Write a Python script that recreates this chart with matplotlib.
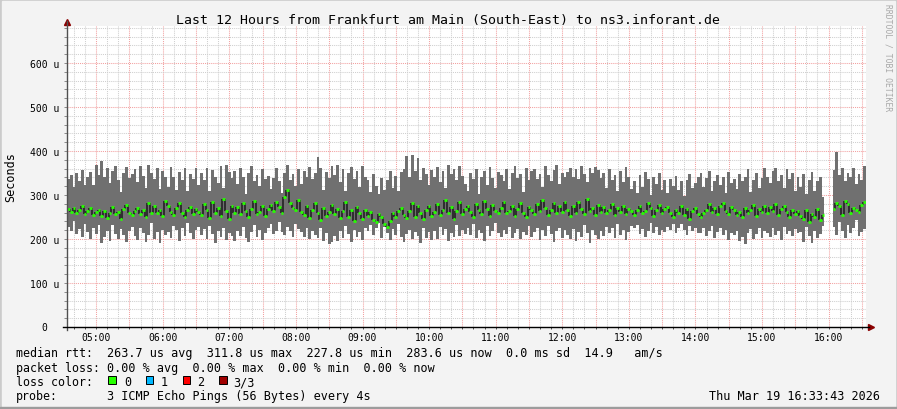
import numpy as np
import matplotlib
matplotlib.use("Agg")
import matplotlib.pyplot as plt
from matplotlib.ticker import MultipleLocator, FuncFormatter
from matplotlib.patches import Rectangle
from matplotlib.lines import Line2D
from matplotlib.transforms import offset_copy

nan = float("nan")

# smoke: min / max of the 3 pings per step, and the median (microseconds)
ping_max = [
    336, 345, 318, 350, 331, 357, 322, 340, 352, 322, 367, 346,
    378, 342, 361, 328, 354, 366, 334, 306, 349, 364, 338, 347,
    358, 330, 366, 344, 316, 368, 350, 336, 361, 314, 355, 340,
    318, 364, 342, 312, 353, 333, 361, 309, 348, 337, 362, 322,
    350, 334, 362, 310, 356, 342, 327, 366, 317, 369, 352, 338,
    354, 326, 362, 340, 303, 351, 366, 332, 345, 320, 358, 336,
    344, 314, 338, 362, 331, 305, 351, 368, 335, 348, 321, 358,
    326, 355, 342, 364, 336, 349, 386, 361, 312, 352, 338, 366,
    346, 368, 330, 359, 308, 350, 363, 336, 354, 318, 365, 342,
    335, 306, 348, 320, 302, 339, 311, 333, 355, 316, 344, 309,
    352, 360, 388, 342, 390, 354, 383, 334, 362, 347, 323, 357,
    340, 364, 329, 354, 315, 368, 347, 360, 333, 366, 343, 325,
    310, 350, 336, 360, 303, 340, 354, 322, 363, 339, 316, 352,
    345, 331, 358, 314, 351, 365, 338, 347, 306, 361, 334, 354,
    360, 336, 348, 318, 365, 346, 331, 356, 368, 325, 351, 340,
    353, 362, 342, 358, 336, 366, 347, 329, 361, 349, 364, 356,
    338, 350, 317, 359, 334, 345, 308, 354, 329, 363, 342, 314,
    332, 305, 345, 318, 353, 336, 300, 340, 325, 349, 312, 335,
    304, 336, 320, 344, 311, 331, 298, 335, 347, 315, 327, 340,
    349, 318, 338, 354, 309, 332, 345, 322, 342, 305, 353, 328,
    336, 314, 347, 331, 342, 358, 306, 335, 351, 317, 338, 361,
    340, 327, 354, 362, 332, 345, 316, 359, 336, 349, 308, 342,
    318, 347, 302, 334, 352, 309, 331, 342, 296, nan, nan, nan,
    356, 397, 345, 362, 331, 350, 340, 361, 324, 348, 333, 366,
]
ping_min = [
    228, 218, 240, 212, 223, 204, 235, 216, 199, 225, 211, 231,
    190, 205, 219, 196, 232, 211, 199, 222, 208, 194, 218, 228,
    206, 197, 226, 213, 193, 208, 236, 200, 217, 191, 221, 210,
    215, 202, 229, 220, 196, 224, 207, 237, 213, 199, 221, 228,
    208, 222, 199, 229, 211, 192, 218, 204, 226, 198, 214, 206,
    196, 219, 207, 227, 202, 194, 216, 231, 205, 221, 197, 213,
    224, 233, 211, 219, 238, 215, 208, 228, 218, 204, 234, 223,
    216, 205, 226, 199, 219, 210, 203, 224, 196, 213, 189, 193,
    207, 195, 218, 203, 229, 211, 194, 221, 204, 215, 198, 226,
    219, 231, 208, 224, 236, 203, 227, 213, 198, 222, 210, 233,
    204, 193, 211, 221, 200, 216, 207, 191, 226, 203, 215, 197,
    218, 199, 228, 208, 222, 195, 213, 204, 231, 207, 220, 211,
    224, 210, 233, 202, 221, 214, 196, 230, 207, 218, 237, 213,
    205, 220, 211, 228, 203, 213, 222, 199, 216, 208, 229, 204,
    215, 226, 198, 220, 207, 229, 211, 193, 218, 224, 202, 221,
    210, 200, 223, 196, 216, 205, 231, 213, 192, 220, 208, 199,
    218, 207, 228, 213, 224, 202, 233, 210, 221, 197, 216, 229,
    226, 231, 211, 222, 205, 218, 236, 214, 227, 208, 221, 216,
    227, 220, 233, 213, 224, 234, 221, 210, 229, 218, 226, 214,
    213, 224, 207, 219, 230, 202, 216, 226, 208, 221, 197, 214,
    210, 219, 196, 205, 188, 214, 223, 200, 211, 226, 203, 218,
    214, 205, 224, 210, 219, 197, 228, 211, 218, 207, 222, 213,
    216, 193, 227, 207, 190, 219, 202, 211, 230, nan, nan, nan,
    228, 210, 239, 219, 202, 231, 213, 224, 243, 207, 217, 222,
]
ping_median = [
    268, 262, 271, 259, 266, 274, 257, 263, 270, 255, 261, 267,
    252, 264, 248, 258, 272, 256, 261, 245, 269, 277, 259, 254,
    263, 271, 256, 267, 250, 282, 260, 274, 258, 266, 253, 287,
    276, 262, 255, 270, 281, 258, 249, 265, 273, 257, 268, 261,
    254, 279, 266, 248, 284, 259, 271, 253, 290, 263, 246, 275,
    260, 272, 257, 281, 264, 250, 269, 287, 256, 262, 276, 252,
    268, 277, 263, 285, 272, 259, 296, 311.8, 281, 270, 265, 288,
    262, 255, 274, 248, 266, 281, 259, 243, 270, 252, 261, 278,
    257, 269, 248, 263, 284, 251, 267, 240, 272, 258, 246, 265,
    253, 261, 244, 238, 256, 249, 234, 227.8, 242, 258, 250, 263,
    270, 255, 248, 264, 282, 251, 276, 259, 245, 267, 274, 253,
    261, 280, 254, 267, 289, 258, 272, 246, 263, 284, 256, 269,
    274, 262, 251, 279, 266, 257, 286, 268, 253, 277, 264, 259,
    271, 285, 258, 264, 276, 253, 268, 282, 260, 249, 273, 266,
    256, 279, 263, 288, 270, 255, 267, 281, 259, 274, 262, 284,
    265, 252, 276, 260, 283, 269, 257, 290, 264, 271, 255, 278,
    262, 273, 258, 266, 280, 254, 270, 261, 275, 257, 268, 263,
    255, 267, 274, 259, 264, 282, 270, 253, 266, 277, 260, 269,
    272, 260, 249, 266, 258, 276, 254, 268, 245, 263, 270, 257,
    251, 258, 266, 279, 262, 270, 257, 276, 281, 264, 256, 273,
    267, 254, 262, 250, 271, 259, 265, 278, 253, 269, 261, 274,
    258, 272, 264, 280, 255, 268, 276, 261, 249, 266, 257, 263,
    252, 246, 265, 238, 257, 249, 268, 243, 255, nan, nan, nan,
    269, 282, 275, 254, 286, 279, 260, 271, 266, 262, 277, 283.6,
]

title = "Last 12 Hours from Frankfurt am Main (South-East) to ns3.inforant.de"
legend_labels = ["median rtt:", "packet loss:", "loss color:", "probe:"]
rtt_line = "263.7 us avg  311.8 us max  227.8 us min  283.6 us now  0.0 ms sd  14.9   am/s"
loss_line = "0.00 % avg  0.00 % max  0.00 % min  0.00 % now"
probe_line = "3 ICMP Echo Pings (56 Bytes) every 4s"
loss_names = ["0", "1", "2", "3/3"]
loss_colors = ["#26ff00", "#00b8ff", "#ff0000", "#a00000"]
stamp = "Thu Mar 19 16:33:43 2026"

W, H = 897, 410
MONO = "DejaVu Sans Mono"


def fx(x):
    return x / W


def fy(y):
    return 1 - y / H


fig = plt.figure(figsize=(W / 100, H / 100), dpi=100, facecolor="#f3f3f3")

# rrdtool style frame: light top/left, darker bottom
fig.patches.append(Rectangle((0, 0), 1, 1, transform=fig.transFigure, color="#cbcbcb", zorder=-7))
fig.patches.append(Rectangle((fx(2), 2 / H), fx(W - 4), 1 - 4 / H, transform=fig.transFigure,
                             color="#f3f3f3", zorder=-6))
fig.patches.append(Rectangle((0, 0), 1, 2 / H, transform=fig.transFigure, color="#9c9c9c", zorder=-5))

ax = fig.add_axes([fx(67), fy(328), (866 - 67) / W, (328 - 27) / H])
ax.set_facecolor("white")

mx = np.array(ping_max, dtype=float)
mn = np.array(ping_min, dtype=float)
md = np.array(ping_median, dtype=float)

t0 = 4 + 33 / 60 + 43 / 3600
step = 12 / len(mx)
left = t0 + step * np.arange(len(mx))

ax.bar(left, mx - mn, bottom=mn, width=step, align="edge", color="#707070",
       linewidth=0, antialiased=False, zorder=2)
ax.vlines(left[1:], md[:-1], md[1:], color="#1c1c1c", lw=1.1, zorder=3)
ax.hlines(md, left, left + step, color="#26ff00", lw=2.0, zorder=4)

ax.set_xlim(t0, t0 + 12)
ax.set_ylim(0, 684)

ax.xaxis.set_major_locator(MultipleLocator(0.5))
ax.xaxis.set_minor_locator(MultipleLocator(1 / 6))
ax.xaxis.set_major_formatter(FuncFormatter(
    lambda v, p: f"{int(round(v)):02d}:00" if abs(v - round(v)) < 1e-6 else ""))
ax.yaxis.set_major_locator(MultipleLocator(100))
ax.yaxis.set_minor_locator(MultipleLocator(20))
ax.yaxis.set_major_formatter(FuncFormatter(lambda v, p: "" if v == 0 else f"{int(v)} u"))

ax.set_axisbelow(True)
ax.grid(which="major", color="#f2a0a0", linestyle=(0, (1, 1)), linewidth=0.75)
ax.grid(which="minor", color="#cfcfcf", linestyle=(0, (1, 1)), linewidth=0.75)

for s in ax.spines.values():
    s.set_visible(False)

ax.tick_params(axis="y", which="both", direction="out", length=2.2, width=0.7,
               color="#8a8a8a", labelsize=7, pad=3.6)
ax.tick_params(axis="x", which="both", direction="out", length=1.5, width=0.7,
               color="#505050", labelsize=7, pad=2.2)
for lab in ax.get_xticklabels() + ax.get_yticklabels():
    lab.set_fontfamily(MONO)

zero_tr = offset_copy(ax.get_yaxis_transform(), fig=fig, x=-20, y=0, units="dots")
ax.text(0, 0, "0", transform=zero_tr, ha="right", va="center", fontsize=7, family=MONO)

# axis lines with arrows
fig.add_artist(Line2D([fx(66.5), fx(66.5)], [fy(331), fy(22)], color="#505050", lw=1.0))
fig.add_artist(Line2D([fx(63), fx(869)], [fy(328), fy(328)], color="#000000", lw=1.0))
ax.plot([0], [1.013], marker="^", ms=4.5, color="#8b0000", transform=ax.transAxes, clip_on=False)
ax.plot([1.006], [0], marker=">", ms=4.5, color="#8b0000", transform=ax.transAxes, clip_on=False)

fig.text(fx(448), fy(24), title, ha="center", va="baseline", fontsize=9.5, family=MONO)
fig.text(fx(11), fy(177), "Seconds", rotation=90, ha="center", va="center", fontsize=8.5, family=MONO)
fig.text(fx(888), fy(58), "RRDTOOL / TOBI OETIKER", rotation=270, ha="center", va="center",
         fontsize=5.8, family=MONO, color="#a8a8a8")

rows = [357.5, 371.8, 386.1, 400.4]
for lbl, yb in zip(legend_labels, rows):
    fig.text(fx(15.5), fy(yb), lbl, ha="left", va="baseline", fontsize=8.4, family=MONO)
fig.text(fx(107.3), fy(rows[0]), rtt_line, ha="left", va="baseline", fontsize=8.5, family=MONO)
fig.text(fx(107.3), fy(rows[1]), loss_line, ha="left", va="baseline", fontsize=8.5, family=MONO)
fig.text(fx(107.3), fy(rows[3]), probe_line, ha="left", va="baseline", fontsize=8.5, family=MONO)
fig.text(fx(880), fy(rows[3]), stamp, ha="right", va="baseline", fontsize=8.5, family=MONO)

box_x = [108.3, 145.7, 182.7, 219.3]
name_x = [124, 161, 197.5, 233.3]
for bx, nx, name, col in zip(box_x, name_x, loss_names, loss_colors):
    fig.patches.append(Rectangle((fx(bx), fy(385)), 7.5 / W, 7.7 / H, transform=fig.transFigure,
                                 facecolor=col, edgecolor="black", linewidth=0.7))
    fig.text(fx(nx), fy(rows[2]), name, ha="left", va="baseline", fontsize=8.5, family=MONO)

fig.savefig("out.png", dpi=100, facecolor=fig.get_facecolor())
